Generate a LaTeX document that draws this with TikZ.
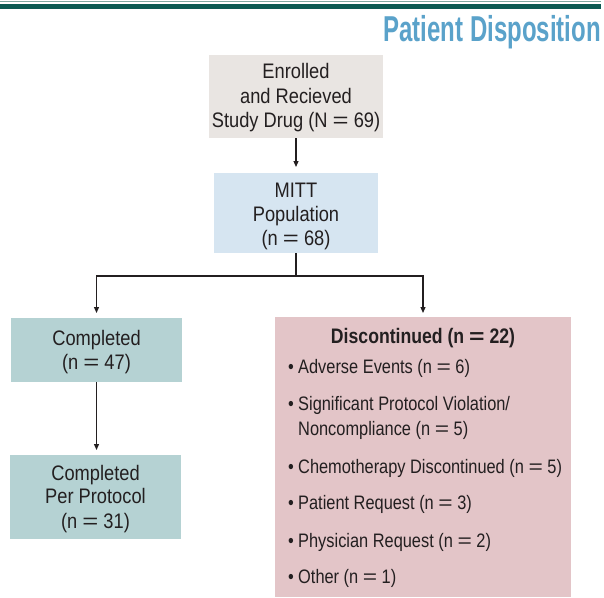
\documentclass[tikz,border=0pt]{standalone}
\usepackage{fontspec}
\setmainfont{Liberation Sans}[FakeStretch=0.87]
\newfontfamily\listfont{Liberation Sans}[FakeStretch=0.84]
\newfontfamily\headfont{Liberation Sans}[FakeStretch=0.84]
\newfontfamily\titlefont{Liberation Sans}[FakeStretch=0.666]
\usetikzlibrary{arrows.meta}
\definecolor{barteal}{HTML}{0B5A52}
\definecolor{thinteal}{HTML}{7FA8A0}
\definecolor{titleblue}{HTML}{5AA2CA}
\definecolor{graybox}{HTML}{E9E5E2}
\definecolor{mittblue}{HTML}{D6E5F1}
\definecolor{tealbox}{HTML}{B5D2D3}
\definecolor{pinkbox}{HTML}{E3C5C8}
\definecolor{txt}{HTML}{231F20}
\newcommand\myeq{\scalebox{1.5}[1]{=}}
\begin{document}
\begin{tikzpicture}[x=1pt,y=-1pt,
  box/.style={rectangle, draw=none, inner sep=0pt, outer sep=0pt},
  boxtext/.style={anchor=base, inner sep=0pt, text=txt, font=\fontsize{21}{24}\selectfont},
  listtext/.style={anchor=base west, inner sep=0pt, text=txt, font=\listfont\fontsize{19.5}{22}\selectfont},
  conn/.style={line width=1.2pt, draw=txt},
  arr/.style={conn, -{Triangle[length=6pt,width=5pt]}}]
\useasboundingbox (0,0) rectangle (604,597);
% header bar
\draw[thinteal, line width=0.8pt] (0,1) -- (601,1);
\fill[barteal] (0,3.5) rectangle (601,9);
\node[anchor=base east, inner sep=0pt, text=titleblue, font=\titlefont\bfseries\fontsize{36}{40}\selectfont] (title) at (601,41) {Patient Disposition};
% boxes
\node[box, fill=graybox, minimum width=174pt, minimum height=83pt] (b1) at (296,96.5) {};
\node[boxtext] (b1a) at (296,78) {Enrolled};
\node[boxtext] (b1b) at (296,103) {and Recieved};
\node[boxtext] (b1c) at (296,127) {Study Drug (N \myeq{} 69)};
\node[box, fill=mittblue, minimum width=164pt, minimum height=80pt] (b2) at (296,213) {};
\node[boxtext] (b2a) at (296,197) {MITT};
\node[boxtext] (b2b) at (296,221) {Population};
\node[boxtext] (b2c) at (296,245) {(n \myeq{} 68)};
\node[box, fill=tealbox, minimum width=171pt, minimum height=64pt] (b3) at (96.5,350) {};
\node[boxtext] (b3a) at (96.5,345) {Completed};
\node[boxtext] (b3b) at (96.5,369) {(n \myeq{} 47)};
\node[box, fill=tealbox, minimum width=171pt, minimum height=84pt] (b4) at (95.5,497) {};
\node[boxtext] (b4a) at (95.5,480) {Completed};
\node[boxtext] (b4b) at (95.5,503) {Per Protocol};
\node[boxtext] (b4c) at (95.5,528) {(n \myeq{} 31)};
\node[box, fill=pinkbox, minimum width=296pt, minimum height=280pt] (b5) at (423,457) {};
\node[anchor=base, inner sep=0pt, text=txt, font=\headfont\fontsize{21}{24}\selectfont\bfseries] (b5h) at (423,343) {Discontinued (n \myeq{} 22)};
\foreach \y/\t [count=\i] in {373/{Adverse Events (n \myeq{} 6)},
  410/{Significant Protocol Violation/},
  473/{Chemotherapy Discontinued (n \myeq{} 5)},
  509/{Patient Request (n \myeq{} 3)},
  547/{Physician Request (n \myeq{} 2)},
  583/{Other (n \myeq{} 1)}}{
  \node[listtext] (bul\i) at (288,\y) {\textbullet};
  \node[listtext] (item\i) at (298,\y) {\t};
}
\node[listtext] (item2b) at (298,435) {Noncompliance (n \myeq{} 5)};
% connectors
\coordinate (j) at (296,276);
\draw[arr, shorten >=6pt] (b1.south) -- (b2.north);
\draw[conn] (b2.south) -- (j);
\draw[arr, shorten >=5pt] (j) -| (b3.north);
\draw[arr, shorten >=4pt] (j) -| (b5.north);
\draw[arr, shorten >=5pt] (b3.south) -- (b3.south |- b4.north);
\end{tikzpicture}
\end{document}
